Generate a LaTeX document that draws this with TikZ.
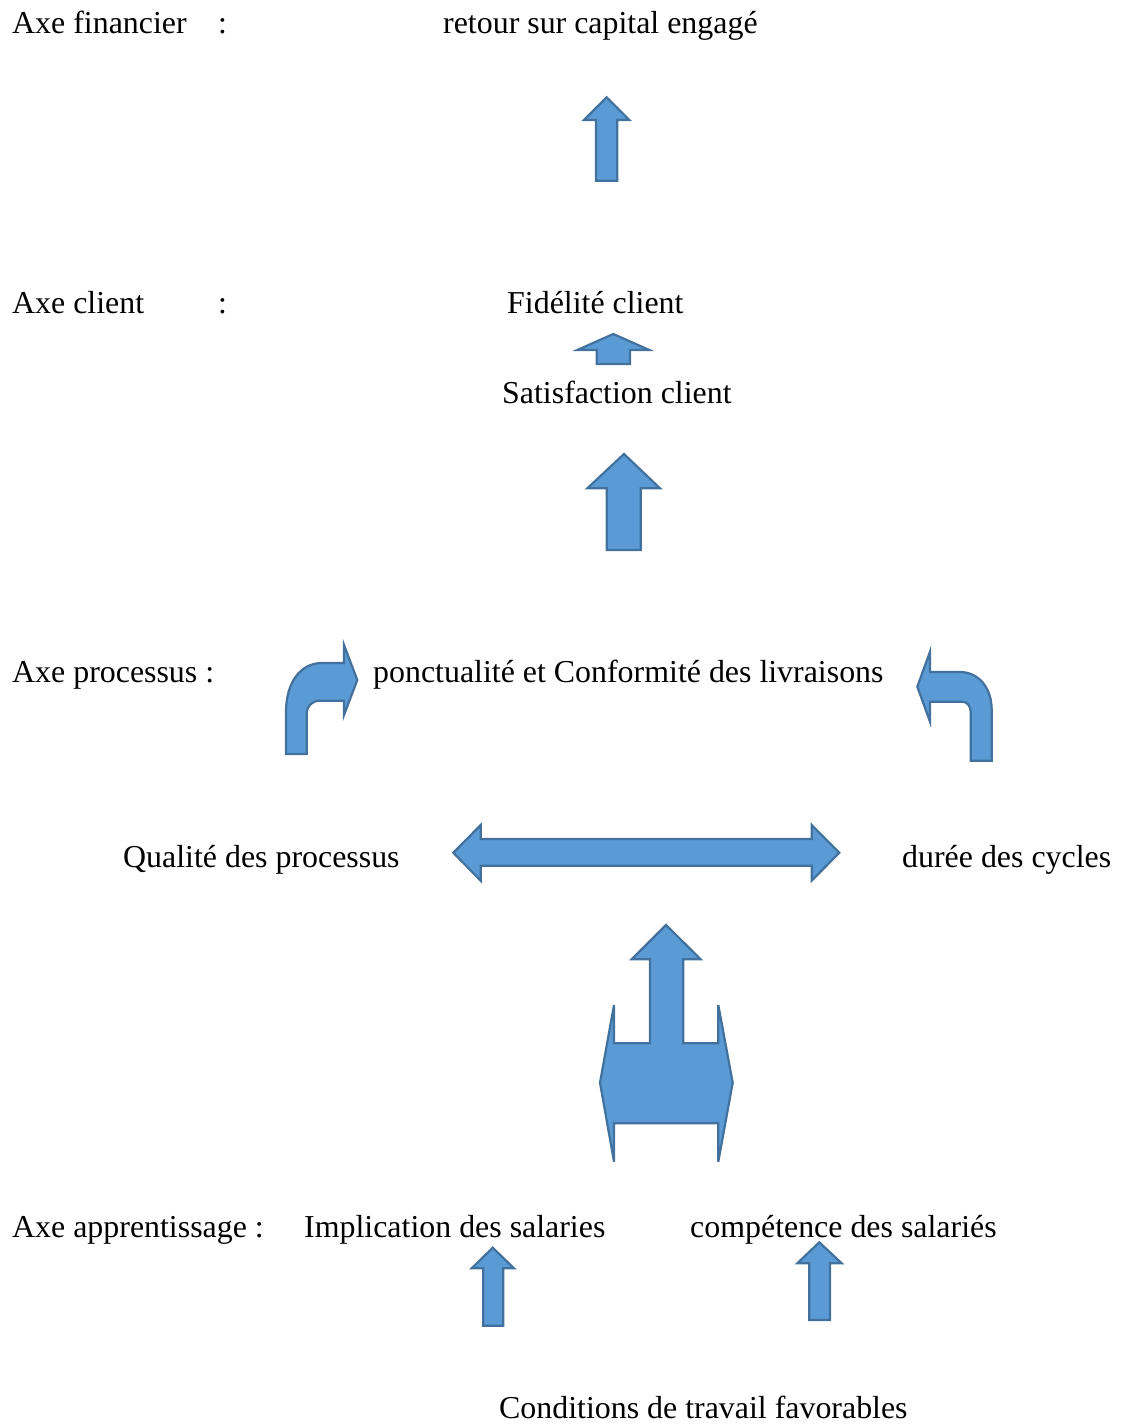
\documentclass[tikz,border=0pt]{standalone}
\usepackage{fontspec}
\setmainfont{Liberation Serif}
\definecolor{afill}{HTML}{5B9BD5}
\definecolor{aline}{HTML}{41719C}
\begin{document}
\begin{tikzpicture}[x={(1pt,0)},y={(0,-1pt)},
  lbl/.style={anchor=base west,inner sep=0pt,font=\fontsize{31.9}{38}\selectfont},
  blockarrow/.style={fill=afill,draw=aline,line width=2.2pt,line join=miter}]
\useasboundingbox (0,0) rectangle (1120,1425);
% texts
\node[lbl] (t1) at (12,33) {Axe financier};
\node[lbl] (c1) at (218,33) {:};
\node[lbl] (t2) at (443,33) {retour sur capital engagé};
\node[lbl] (t3) at (12,313) {Axe client};
\node[lbl] (c2) at (218,313) {:};
\node[lbl] (t4) at (507,313) {Fidélité client};
\node[lbl] (t5) at (502,403) {Satisfaction client};
\node[lbl] (t6) at (12,682) {Axe processus :};
\node[lbl] (t7) at (373,682) {ponctualité et Conformité des livraisons};
\node[lbl] (t8) at (123,867) {Qualité des processus};
\node[lbl] (t9) at (902,867) {durée des cycles};
\node[lbl] (t10) at (12,1237) {Axe apprentissage :};
\node[lbl] (t11) at (304,1237) {Implication des salaries};
\node[lbl] (t12) at (690,1237) {compétence des salariés};
\node[lbl] (t13) at (499,1418) {Conditions de travail favorables};
% up arrow 1
\draw[blockarrow] (606.7,97.3) -- (629.3,120) -- (617.3,120) -- (617.3,180.7) -- (596,180.7) -- (596,120) -- (584,120) -- cycle;
% small up arrow
\draw[blockarrow] (613.3,334) -- (649.3,350) -- (630,350) -- (630,364) -- (596.7,364) -- (596.7,350) -- (577.3,350) -- cycle;
% up arrow 3
\draw[blockarrow] (624,454) -- (660,488.3) -- (640.7,488.3) -- (640.7,550) -- (606.7,550) -- (606.7,488.3) -- (587.3,488.3) -- cycle;
% left bent arrow
\draw[blockarrow] (286,754) -- (286,712) .. controls (286,683) and (300,663) .. (322,663) -- (344,663) -- (344,645) -- (357.3,680) -- (344,715) -- (344,700.7) -- (320,700.7) .. controls (312,700.7) and (306.7,706) .. (306.7,714) -- (306.7,754) -- cycle;
% right bent arrow
\draw[blockarrow] (991.7,760.7) -- (991.7,710) .. controls (991.7,687) and (978,672) .. (960,672) -- (930,672) -- (930,651.7) -- (917.3,686.7) -- (930,721.7) -- (930,701.7) -- (962,701.7) .. controls (967,701.7) and (970.7,706) .. (970.7,712) -- (970.7,760.7) -- cycle;
% double arrow
\draw[blockarrow] (453.3,852.7) -- (480.7,825) -- (480.7,839) -- (811.7,839) -- (811.7,825) -- (839.3,852.7) -- (811.7,880.7) -- (811.7,865.7) -- (480.7,865.7) -- (480.7,880.7) -- cycle;
% combined bottom shape
\draw[blockarrow] (666,925) -- (700.7,959.3) -- (683.3,959.3) -- (683.3,1043.3) -- (718.3,1043.3) -- (718.3,1005) -- (732.7,1082.7) -- (718.3,1161.7) -- (718.3,1123.3) -- (614,1123.3) -- (614,1161.7) -- (600,1082.7) -- (614,1005) -- (614,1043.3) -- (650,1043.3) -- (650,959.3) -- (631.7,959.3) -- cycle;
% bottom arrows
\draw[blockarrow] (492.7,1247.7) -- (514,1268.3) -- (503.3,1268.3) -- (503.3,1325.7) -- (483.3,1325.7) -- (483.3,1268.3) -- (471.7,1268.3) -- cycle;
\draw[blockarrow] (819.3,1242.3) -- (841.7,1263.3) -- (830,1263.3) -- (830,1320) -- (809.3,1320) -- (809.3,1263.3) -- (797.3,1263.3) -- cycle;
\end{tikzpicture}
\end{document}
